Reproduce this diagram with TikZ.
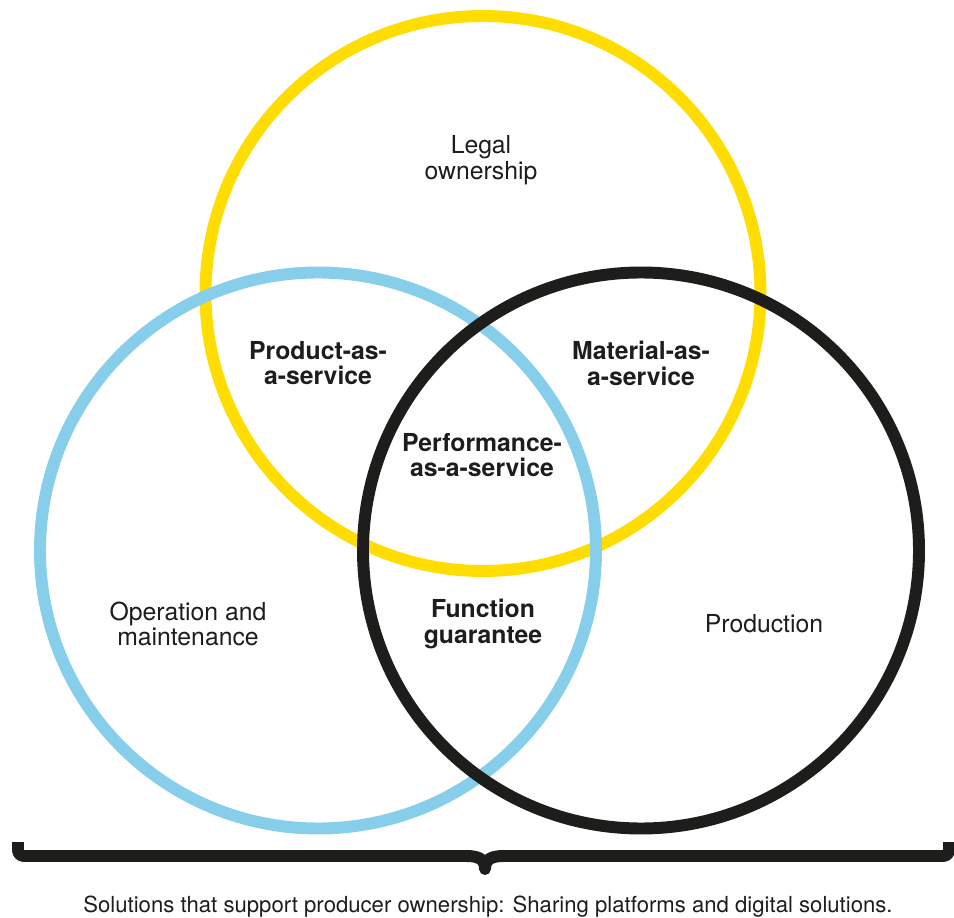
\documentclass[tikz,border=0pt]{standalone}
\usepackage{fontspec}
\setmainfont{TeX Gyre Heros}
\definecolor{ringyellow}{RGB}{255,221,0}
\definecolor{ringblue}{RGB}{135,206,235}
\definecolor{ringblack}{RGB}{29,29,27}
\tikzset{
  ring/.style={line width=6.8pt},
  lbl/.style={align=center,text=ringblack,font=\fontsize{14.1}{14.7}\selectfont},
  blbl/.style={lbl,font=\fontsize{14.1}{14.7}\selectfont\bfseries},
}
\begin{document}
\begin{tikzpicture}[x=0.02cm,y=-0.02cm]
    \useasboundingbox (0,0) rectangle (954,918);
    % the three rings, yellow below, black on top
    \draw[ring,ringyellow] (483,293.5) circle (277.5);
    \draw[ring,ringblue] (318,550.5) circle (278);
    \draw[ring,ringblack] (641,550.5) circle (278);

    \node[lbl] (legal) at (481,160) {Legal\\ownership};
    \node[blbl] (paas) at (318,363) {Product-as-\\a-service};
    \node[blbl] (maas) at (641,363) {Material-as-\\a-service};
    \node[blbl] (perf) at (482,455) {Performance-\\as-a-service};
    \node[lbl] (oper) at (188,624) {Operation and\\maintenance};
    \node[blbl] (func) at (483,624) {Function\\guarantee};
    \node[lbl] (prod) at (764,624) {Production};

    % brace under everything
    \draw[ringblack,line width=6.8pt,line join=round]
      (18,842) -- (18,850) arc[start angle=180,end angle=90,radius=6] -- (466,856)
      .. controls (480,856) and (485,860) .. (485,869)
      .. controls (485,860) and (490,856) .. (504,856) -- (943,856)
      arc[start angle=90,end angle=0,radius=6] -- (949,842);
    \node[lbl,font=\fontsize{12.6}{14}\selectfont] (note) at (488,907) {Solutions that support producer ownership: Sharing platforms and digital solutions.};
\end{tikzpicture}
\end{document}
